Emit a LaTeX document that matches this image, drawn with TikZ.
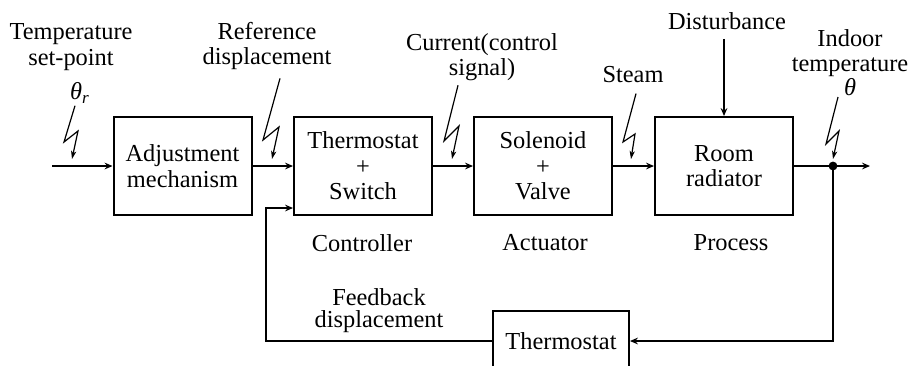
\documentclass[tikz,border=0pt]{standalone}
\usepackage{fontspec}
\setmainfont{Liberation Serif}
\usetikzlibrary{arrows.meta,calc,positioning}

\newcommand\txt{\fontsize{12.2}{12.8}\selectfont}
\tikzset{
  block/.style={draw,line width=1pt,minimum width=69pt,minimum height=49pt,align=center,inner sep=0pt,font=\txt},
  lbl/.style={align=center,inner sep=0pt,font=\txt},
  flow/.style={line width=1pt,-{Stealth[length=4pt,width=3.4pt,inset=1.4pt]}},
  bolt/.style={line width=0.6pt,-{Stealth[length=4pt,width=2.6pt,inset=1pt]}},
}

\begin{document}
\begin{tikzpicture}[x=0.5pt,y=-0.5pt]
\useasboundingbox (0,0) rectangle (911,365);
% blocks
\node[block] (adj) at (182.5,166) {Adjustment\\mechanism};
\node[block] (sw) at (363,166) {Thermostat\\+\\Switch};
\node[block] (valve) at (543,166) {Solenoid\\+\\Valve};
\node[block] (room) at (724,166) {Room\\radiator};
\node[block,minimum width=68pt,minimum height=30pt] (fbt) at (561,341) {Thermostat};
% signal names
\node[lbl] (tsp) at (71,47) {Temperature\\set-point};
\node[lbl] (thr) at (80,93) {\textit{θ}\textsubscript{\textit{r}}};
\node[lbl] (ref) at (267,46) {Reference\\displacement};
\node[lbl] (cur) at (482,57) {Current(control\\signal)};
\node[lbl] (steam) at (633,75) {Steam};
\node[lbl] (dist) at (727,21) {Disturbance};
\node[lbl] (indoor) at (850,53) {Indoor\\temperature};
\node[lbl] (th) at (850,87) {\textit{θ}};
\node[lbl,font=\fontsize{12.2}{11}\selectfont] (fbd) at (379,311) {Feedback\\displacement};
% block names
\node[lbl] (ctrl) at (362,243) {Controller};
\node[lbl] (act) at (545,243) {Actuator};
\node[lbl] (proc) at (731,243) {Process};
% main loop
\coordinate (in) at (52,166);
\coordinate (dot) at (833,166);
\coordinate (out) at (870,166);
\coordinate (fbl) at (266,208);
\draw[flow] (in) -- (adj);
\draw[flow] (adj) -- (sw);
\draw[flow] (sw) -- (valve);
\draw[flow] (valve) -- (room);
\draw[line width=1pt] (room) -- (dot);
\draw[flow] (dot) -- (out);
\fill (dot) circle (2.2pt);
\draw[flow] (dot) |- (fbt);
\draw[flow] (fbt) -| (fbl) -- (fbl -| sw.west);
\draw[flow] ([yshift=-4.5pt]dist.south -| room.north) -- (room);
% lightning marks
\coordinate (b1) at (72,159);
\coordinate (b2) at (272,159);
\coordinate (b3) at (452,159);
\coordinate (b4) at (631,159);
\coordinate (b5) at (833,159);
\draw[bolt] ([shift={(-5,2)}]thr.south) -- ($(b1)+(-8,-17)$) -- ($(b1)+(6,-28)$) -- (b1);
\draw[bolt] ([shift={(13,8)}]ref.south) -- ($(b2)+(-9,-19)$) -- ($(b2)+(7,-32)$) -- (b2);
\draw[bolt] ([shift={(-24,4)}]cur.south) -- ($(b3)+(-8,-18)$) -- ($(b3)+(7,-33)$) -- (b3);
\draw[bolt] ([shift={(3,10)}]steam.south) -- ($(b4)+(-8,-17)$) -- ($(b4)+(4,-25)$) -- (b4);
\draw[bolt] ([shift={(-12,1)}]th.south) -- ($(b5)+(-7,-15)$) -- ($(b5)+(6,-28)$) -- (b5);
\end{tikzpicture}
\end{document}
